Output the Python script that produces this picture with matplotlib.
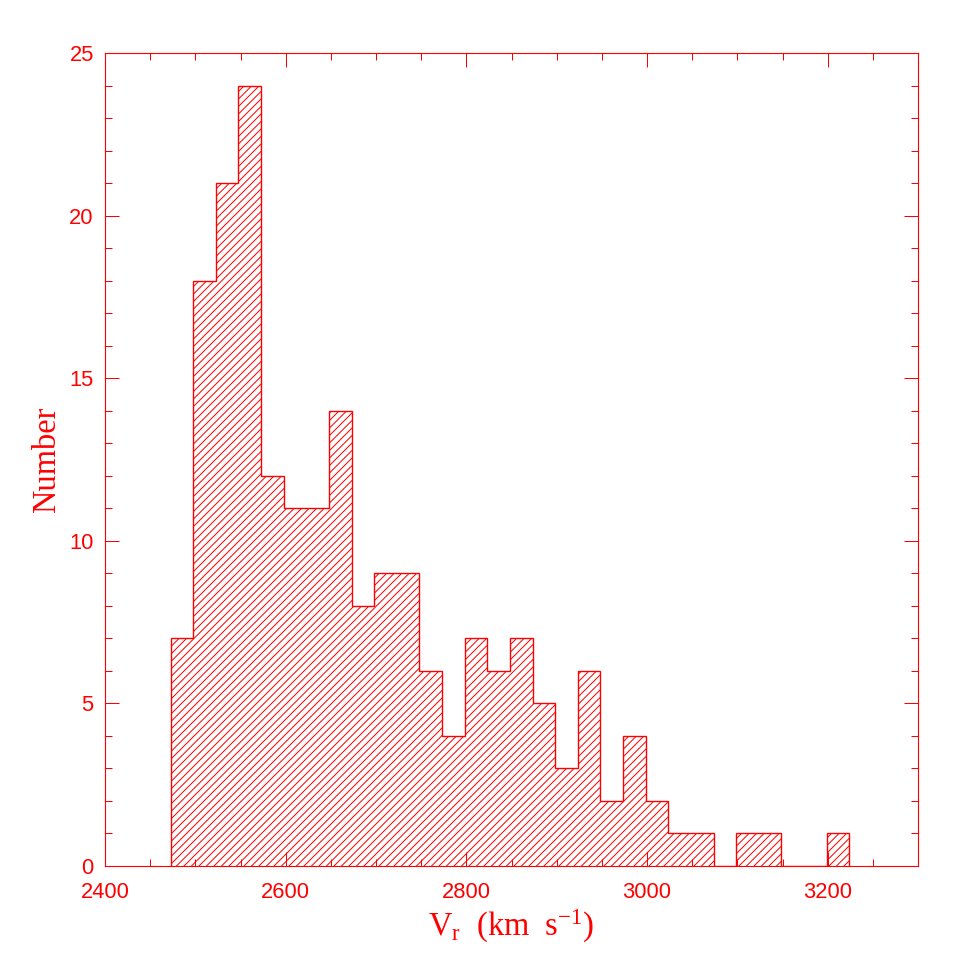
import numpy as np
import matplotlib
matplotlib.use("Agg")
import matplotlib.pyplot as plt
from matplotlib.ticker import MultipleLocator

# Histogram data (velocity bins of ~25 km/s)
bin_start = 2472.5
bin_width = 25.05
counts = [7, 18, 21, 24, 12, 11, 11, 14, 8, 9, 9, 6, 4, 7, 6, 7, 5, 3, 6, 2,
          4, 2, 1, 1, 0, 1, 1, 0, 0, 1]
edges = bin_start + bin_width * np.arange(len(counts) + 1)

xlim = (2400, 3300)
ylim = (0, 25)
xlabel = r"V$_{\mathrm{r}}$  (km  s$^{-1}$)"
ylabel = "Number"

RED = "#ff0000"
plt.rcParams["hatch.color"] = RED
plt.rcParams["hatch.linewidth"] = 0.8
plt.rcParams["mathtext.fontset"] = "custom"
plt.rcParams["mathtext.rm"] = "Liberation Serif"
plt.rcParams["mathtext.it"] = "Liberation Serif:italic"

DPI = 90
fig = plt.figure(figsize=(969 / DPI, 969 / DPI), dpi=DPI)
ax = fig.add_axes([0.1084, 0.1063, 0.839, 0.839])

ax.stairs(counts, edges, fill=True, facecolor="none", edgecolor=RED,
          hatch="////", linewidth=1.1)

ax.set_xlim(*xlim)
ax.set_ylim(*ylim)
ax.xaxis.set_major_locator(MultipleLocator(200))
ax.xaxis.set_minor_locator(MultipleLocator(50))
ax.yaxis.set_major_locator(MultipleLocator(5))
ax.yaxis.set_minor_locator(MultipleLocator(1))

for s in ax.spines.values():
    s.set_color(RED)
    s.set_linewidth(0.9)

ax.tick_params(which="both", direction="in", top=True, right=True,
               color=RED, labelcolor=RED, width=0.8)
ax.tick_params(which="major", length=11.2)
ax.tick_params(which="minor", length=5.6)
ax.tick_params(axis="x", which="major", pad=13)
ax.tick_params(axis="y", which="major", pad=9)
for lab in ax.get_xticklabels() + ax.get_yticklabels():
    lab.set_fontfamily("Liberation Sans")
    lab.set_fontsize(17.5)

ax.set_xlabel(xlabel, fontfamily="Liberation Serif", fontsize=26, color=RED,
              labelpad=4)
ax.set_ylabel(ylabel, fontfamily="Liberation Serif", fontsize=26, color=RED,
              labelpad=6)

fig.savefig("out.png", dpi=DPI, facecolor="white")
